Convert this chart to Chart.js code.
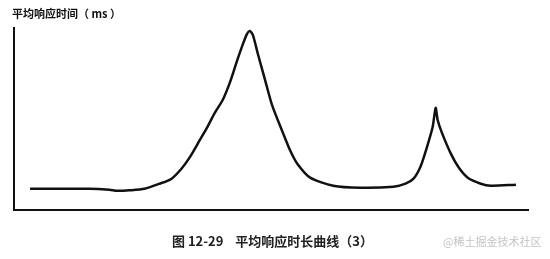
<!DOCTYPE html>
<html><head><meta charset="utf-8">
<script src="https://cdn.jsdelivr.net/npm/chart.js@4"></script>
<style>
html,body{margin:0;padding:0;background:#fff;}
#wrap{position:relative;width:550px;height:259px;}
canvas{position:absolute;left:0;top:0;}
.t{position:absolute;white-space:nowrap;}
#ytitle{left:12px;top:5px;font:bold 11px "Noto Sans CJK SC",sans-serif;color:#111;}
#cap{left:172px;top:231px;font:bold 13px "Noto Sans CJK SC",serif;color:#222;}
#wm{left:443px;top:233px;font:11px "Noto Sans CJK SC",sans-serif;color:#c4c4c4;}
</style></head><body>
<div id="wrap">
<canvas id="c" width="550" height="259"></canvas>
<div class="t" id="ytitle">平均响应时间（ ms ）</div>
<div class="t" id="cap">图 12-29&nbsp;&nbsp;&nbsp;&nbsp;平均响应时长曲线（3）</div>
<div class="t" id="wm">@稀土掘金技术社区</div>
</div>
<script>
const times = [16,45,75,95,103,115,130,145,157,167,175,185,192,200,208,215,222,228,232,235,238,243,250,257,268,275,282,295,318,345,378,390,398,405,411,417,420,422,426,435,443,452,465,475,500];
const responseMs = [21,21,21,20,19,19.5,21,26,31,41,52,69,81,96,109,126,147,164,174,177,173,154,129,104,76,59,46,32,24,22,23,26,31,43,61,82,101,89,77,56,42,32,26,24,25];
const xRange = [0,512];
const yRange = [0,180];

const pts = times.map((t,i)=>({x:t,y:responseMs[i]}));
new Chart(document.getElementById('c'),{
  type:'line',
  data:{datasets:[{data:pts,borderColor:'#111',borderWidth:2.5,pointRadius:0,tension:0.25,fill:false}]},
  options:{
    responsive:false,animation:false,
    layout:{padding:{left:14,top:28,right:22,bottom:49}},
    plugins:{legend:{display:false},tooltip:{enabled:false}},
    scales:{
      x:{type:'linear',min:xRange[0],max:xRange[1],ticks:{display:false},grid:{display:false,drawTicks:false},border:{display:true,color:'#111',width:2}},
      y:{min:yRange[0],max:yRange[1],ticks:{display:false},grid:{display:false,drawTicks:false},border:{display:true,color:'#111',width:2}}
    }
  }
});
</script>
</body></html>
